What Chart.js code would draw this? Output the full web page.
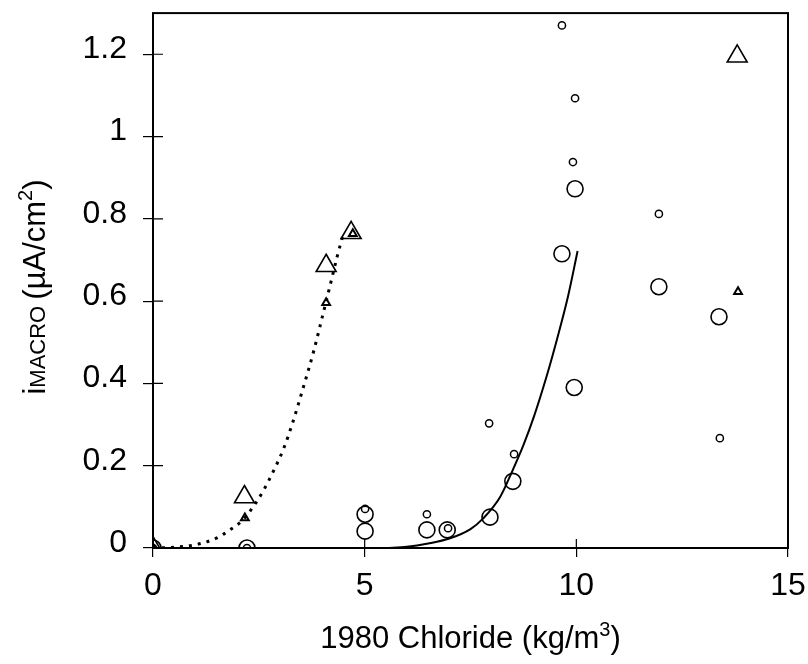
<!DOCTYPE html>
<html>
<head>
<meta charset="utf-8">
<script src="https://cdn.jsdelivr.net/npm/chart.js@4/dist/chart.umd.min.js"></script>
<style>
  html, body { margin: 0; background: #fff; }
  #wrap { width: 808px; height: 664px; }
</style>
</head>
<body>
<div id="wrap"><canvas id="chart"></canvas></div>
<script>
// axis ticks
const xTicks = [0, 5, 10, 15];
const xTickLabels = ['0', '5', '10', '15'];
const yTicks = [0, 0.2, 0.4, 0.6, 0.8, 1, 1.2];
const yTickLabels = ['0', '0.2', '0.4', '0.6', '0.8', '1', '1.2'];

// large open circles
const bigCircX = [0, 2.22, 5.01, 5.01, 6.47, 6.95, 7.96, 8.5, 9.66, 9.97, 9.95, 11.95, 13.37];
const bigCircY = [0, 0, 0.041, 0.082, 0.044, 0.044, 0.075, 0.162, 0.715, 0.873, 0.39, 0.635, 0.562];
// small open circles
const smallCircX = [0, 2.22, 5.01, 6.47, 6.97, 7.94, 8.53, 9.92, 9.97, 9.66, 11.95, 13.39];
const smallCircY = [0, 0, 0.095, 0.082, 0.048, 0.303, 0.228, 0.938, 1.093, 1.27, 0.812, 0.267];
// large open triangles
const bigTriX = [0, 2.16, 4.09, 4.68, 13.8];
const bigTriY = [0, 0.124, 0.686, 0.766, 1.195];
// small triangles
const smallTriX = [0, 2.17, 4.09, 4.72, 13.82];
const smallTriY = [0, 0.073, 0.596, 0.764, 0.623];

// dotted trend (triangles)
const dotFitX = [0, 0.5, 1.0, 1.5, 1.8, 2.1, 2.4, 2.6, 2.85, 3.08, 3.3, 3.55, 3.8, 4.0, 4.2, 4.35, 4.5];
const dotFitY = [0, 0.002, 0.008, 0.024, 0.043, 0.066, 0.105, 0.138, 0.188, 0.24, 0.305, 0.39, 0.48, 0.562, 0.645, 0.708, 0.765];
// solid trend (circles)
const solidFitX = [5.5, 6.0, 6.5, 7.0, 7.5, 7.8, 8.2, 8.5, 8.75, 9.0, 9.3, 9.55, 9.8, 10.03];
const solidFitY = [0, 0.003, 0.011, 0.023, 0.046, 0.072, 0.124, 0.19, 0.25, 0.32, 0.418, 0.51, 0.61, 0.722];

const FONT = "'Liberation Sans', Arial, sans-serif";

function pts(xs, ys) {
  return xs.map((x, i) => ({x: x, y: ys[i]}));
}

function markers(xs, ys, style, r, w) {
  return {
    data: pts(xs, ys),
    showLine: false,
    pointStyle: style,
    pointRadius: r,
    pointBorderWidth: w,
    pointBorderColor: '#000',
    pointBackgroundColor: 'rgba(0,0,0,0)'
  };
}

// frame, inner tick halves and the axis titles
const decor = {
  id: 'decor',
  beforeDatasetsDraw(chart) {
    const ctx = chart.ctx, a = chart.chartArea;
    const xs = chart.scales.x, ys = chart.scales.y;
    ctx.save();
    ctx.strokeStyle = '#000';
    ctx.lineWidth = 2;
    ctx.strokeRect(a.left, a.top, a.right - a.left, a.bottom - a.top);
    ctx.lineWidth = 1.2;
    ctx.beginPath();
    xTicks.forEach(v => {
      const px = xs.getPixelForValue(v);
      ctx.moveTo(px, a.bottom);
      ctx.lineTo(px, a.bottom - 9);
    });
    yTicks.forEach(v => {
      const py = ys.getPixelForValue(v);
      ctx.moveTo(a.left, py);
      ctx.lineTo(a.left + 10, py);
    });
    ctx.stroke();
    ctx.restore();
  },
  afterDraw(chart) {
    const ctx = chart.ctx, a = chart.chartArea;
    ctx.save();
    ctx.fillStyle = '#000';
    ctx.textBaseline = 'alphabetic';
    ctx.textAlign = 'left';

    function drawRuns(runs) {
      let total = 0;
      runs.forEach(r => { ctx.font = r.size + 'px ' + FONT; r.w = ctx.measureText(r.t).width; total += r.w; });
      let x = -total / 2;
      runs.forEach(r => {
        ctx.font = r.size + 'px ' + FONT;
        ctx.fillText(r.t, x, -(r.rise || 0));
        x += r.w;
      });
    }

    // x title
    ctx.save();
    ctx.translate((a.left + a.right) / 2, 648);
    drawRuns([
      {t: '1980 Chloride (kg/m', size: 31},
      {t: '3', size: 20, rise: 12},
      {t: ')', size: 31}
    ]);
    ctx.restore();

    // y title
    ctx.save();
    ctx.translate(45, 287);
    ctx.rotate(-Math.PI / 2);
    drawRuns([
      {t: 'i', size: 31},
      {t: 'MACRO ', size: 22},
      {t: '(\u00b5A/cm', size: 31},
      {t: '2', size: 20, rise: 13},
      {t: ')', size: 31}
    ]);
    ctx.restore();
    ctx.restore();
  }
};

new Chart(document.getElementById('chart'), {
  type: 'scatter',
  data: {
    datasets: [
      {
        data: pts(dotFitX, dotFitY),
        showLine: true,
        borderColor: '#000',
        borderWidth: 3,
        borderDash: [3, 6],
        pointRadius: 0,
        cubicInterpolationMode: 'monotone'
      },
      {
        data: pts(solidFitX, solidFitY),
        showLine: true,
        borderColor: '#000',
        borderWidth: 2,
        pointRadius: 0,
        cubicInterpolationMode: 'monotone'
      },
      markers(bigCircX, bigCircY, 'circle', 8, 1.6),
      markers(smallCircX, smallCircY, 'circle', 3.6, 1.5),
      markers(bigTriX, bigTriY, 'triangle', 11.5, 1.6),
      markers(smallTriX, smallTriY, 'triangle', 4.5, 2)
    ]
  },
  options: {
    responsive: true,
    maintainAspectRatio: false,
    animation: false,
    layout: { padding: { top: 12, right: 20, left: 0, bottom: 0 } },
    plugins: { legend: { display: false }, tooltip: { enabled: false } },
    scales: {
      x: {
        type: 'linear',
        min: 0,
        max: 15,
        afterBuildTicks: s => { s.ticks = xTicks.map(v => ({value: v})); },
        afterFit: s => { s.height = 116; s.paddingLeft = 0; s.paddingRight = 0; },
        border: { display: false },
        grid: { drawOnChartArea: false, drawTicks: true, tickLength: 9, color: '#000', lineWidth: 1.2 },
        ticks: {
          color: '#000',
          font: { family: FONT, size: 32 },
          padding: 10,
          maxRotation: 0,
          callback: (v) => xTickLabels[xTicks.indexOf(v)]
        }
      },
      y: {
        type: 'linear',
        min: 0,
        max: 1.3,
        afterBuildTicks: s => { s.ticks = yTicks.map(v => ({value: v})); },
        afterFit: s => { s.width = 153; s.paddingTop = 0; s.paddingBottom = 0; },
        border: { display: false },
        grid: { drawOnChartArea: false, drawTicks: true, tickLength: 10, color: '#000', lineWidth: 1.2 },
        ticks: {
          color: '#000',
          font: { family: FONT, size: 32 },
          padding: 16,
          labelOffset: -5,
          callback: (v) => yTickLabels[yTicks.indexOf(v)]
        }
      }
    }
  },
  plugins: [decor]
});
</script>
</body>
</html>
